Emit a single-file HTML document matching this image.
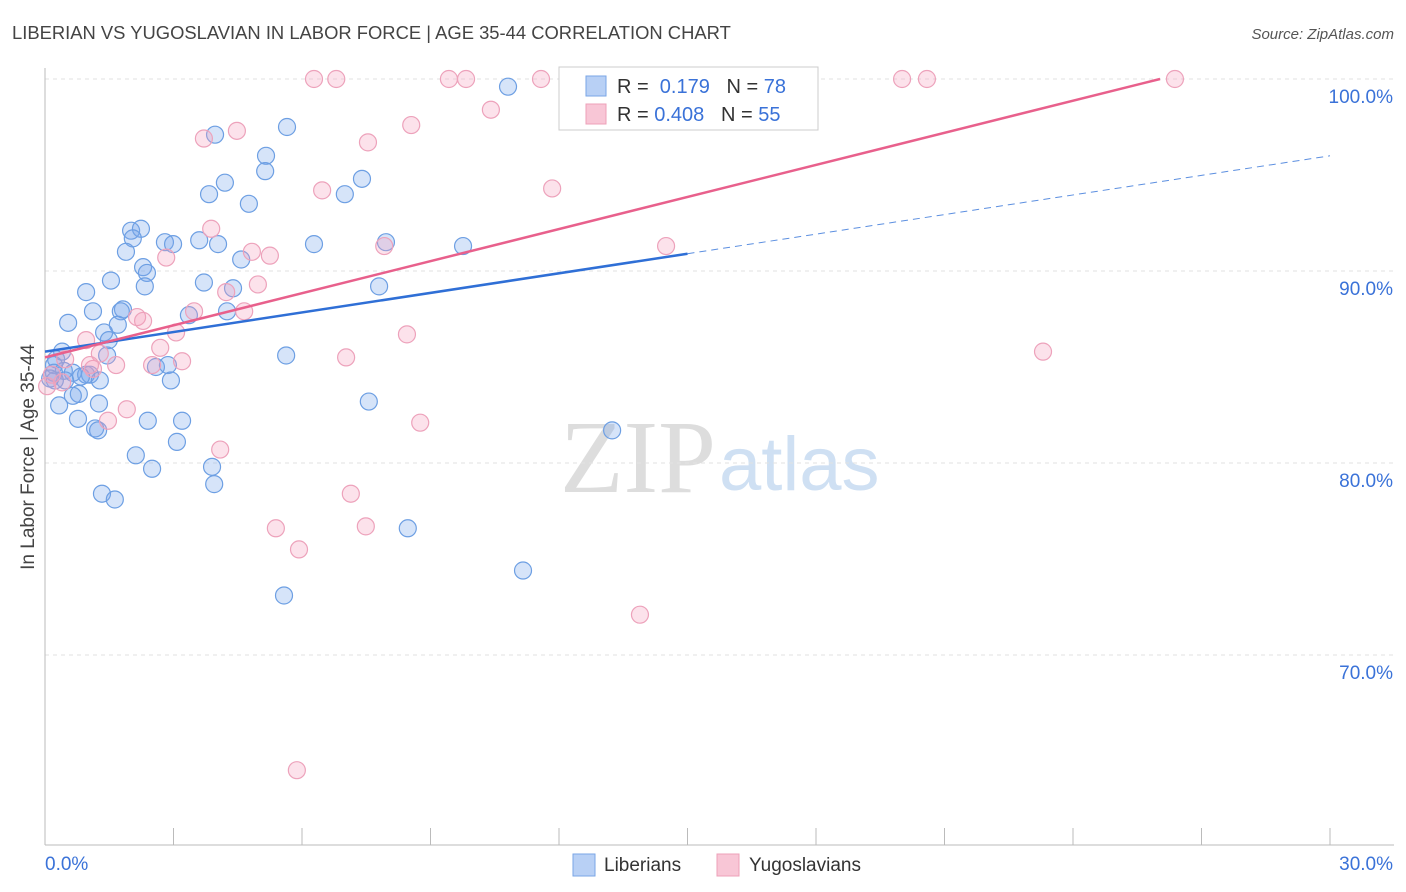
<!DOCTYPE html>
<html><head><meta charset="utf-8"><style>
body{margin:0;background:#fff;font-family:"Liberation Sans",sans-serif}
svg{display:block}
</style></head><body>
<svg width="1406" height="892">
<text x="12" y="39" font-size="18.4" fill="#444">LIBERIAN VS YUGOSLAVIAN IN LABOR FORCE | AGE 35-44 CORRELATION CHART</text>
<text x="1394" y="39" font-size="15" fill="#555" font-style="italic" text-anchor="end">Source: ZipAtlas.com</text>
<text x="716" y="492" font-size="104" fill="#ddd" text-anchor="end" font-family="Liberation Serif,serif">ZIP</text>
<text x="719" y="490" font-size="76" fill="#cfe0f3">atlas</text>
<text transform="translate(34,457) rotate(-90)" font-size="19" fill="#444" text-anchor="middle">In Labor Force | Age 35-44</text>
<g id="grid"></g><g id="pts"></g><g id="lines"></g>
<g>
<rect x="559" y="67" width="259" height="63" fill="#fff" stroke="#ccc"/>
<rect x="586" y="76" width="20" height="20" fill="#b8d0f5" stroke="#7aa6e6"/>
<text x="617" y="93" font-size="20" fill="#333">R = <tspan fill="#3a72d8">&#160;0.179</tspan>&#160;&#160;&#160;N = <tspan fill="#3a72d8">78</tspan></text>
<rect x="586" y="104" width="20" height="20" fill="#f8c6d6" stroke="#eea0b8"/>
<text x="617" y="121" font-size="20" fill="#333">R = <tspan fill="#3a72d8">0.408</tspan>&#160;&#160;&#160;N = <tspan fill="#3a72d8">55</tspan></text>
</g>
<g>
<rect x="573" y="854" width="22" height="22" fill="#b8d0f5" stroke="#7aa6e6"/>
<text x="604" y="871" font-size="19" fill="#333">Liberians</text>
<rect x="717" y="854" width="22" height="22" fill="#f8c6d6" stroke="#eea0b8"/>
<text x="749" y="871" font-size="19" fill="#333">Yugoslavians</text>
</g>
</svg>
<script>
const yTicks=[70,80,90,100];
const xTickLabels=["0.0%","30.0%"];
const blueX=[10.81,3.97,5.65,5.16,5.14,4.20,3.83,4.76,7.40,7.00,2.01,2.24,2.05,2.80,2.99,3.60,4.04,4.58,6.28,7.96,9.76,1.89,2.29,2.38,1.54,2.33,0.96,3.71,4.39,7.80,1.82,1.77,1.12,3.36,4.25,0.54,1.70,1.38,1.49,0.40,1.45,0.26,0.21,0.21,0.44,0.65,0.96,1.05,0.47,0.23,0.79,0.65,2.59,2.87,2.94,5.63,0.33,1.26,0.77,2.40,3.20,1.17,1.24,3.08,2.12,2.50,3.90,3.95,1.33,1.63,7.56,13.24,8.47,11.16,5.58,0.84,1.28,0.12];
const blueY=[99.6,97.1,97.5,96.0,95.2,94.6,94.0,93.5,94.8,94.0,92.1,92.2,91.7,91.5,91.4,91.6,91.4,90.6,91.4,91.5,91.3,91.0,90.2,89.9,89.5,89.2,88.9,89.4,89.1,89.2,88.0,87.9,87.9,87.7,87.9,87.3,87.2,86.8,86.4,85.8,85.6,85.4,85.1,84.7,84.8,84.7,84.6,84.6,84.3,84.3,83.6,83.5,85.0,85.1,84.3,85.6,83.0,83.1,82.3,82.2,82.2,81.8,81.7,81.1,80.4,79.7,79.8,78.9,78.4,78.1,83.2,81.7,76.6,74.4,73.1,84.5,84.3,84.4];
const pinkX=[6.28,6.80,9.43,9.83,11.58,12.61,15.39,20.01,20.59,26.38,10.41,8.55,4.48,3.71,7.54,6.47,11.84,3.88,4.83,2.83,5.25,7.92,14.50,4.97,4.23,3.48,4.65,2.15,2.29,3.06,8.45,0.96,2.69,1.28,3.20,2.50,1.66,1.12,7.03,0.47,0.16,0.40,0.05,1.91,1.47,8.76,4.09,7.14,5.39,7.49,5.93,13.89,23.30,5.88,1.05];
const pinkY=[100,100,100,100,100,100,100,100,100,100,98.4,97.6,97.3,96.9,96.7,94.2,94.3,92.2,91.0,90.7,90.8,91.3,91.3,89.3,88.9,87.9,87.9,87.6,87.4,86.8,86.7,86.4,86.0,85.7,85.3,85.1,85.1,84.9,85.5,85.4,84.6,84.2,84.0,82.8,82.2,82.1,80.7,78.4,76.6,76.7,75.5,72.1,85.8,64.0,85.1];
const blueTrend=[85.8,0.34];
const pinkTrend=[85.5,0.557];
const NS="http://www.w3.org/2000/svg";
const sx=v=>45+v/30*1285, sy=v=>79+(100-v)*19.2;
function mk(t,a,p){const e=document.createElementNS(NS,t);for(const k in a)e.setAttribute(k,a[k]);p.appendChild(e);return e;}
const g=document.getElementById('grid');
yTicks.forEach(t=>{
 const l=mk('line',{x1:45,x2:1394,y1:sy(t),y2:sy(t),stroke:'#e2e2e2','stroke-dasharray':'4,4'},g);
 
 
 const tx=mk('text',{x:1393,y:sy(t)+24,'font-size':19,fill:'#3a72d8','text-anchor':'end'},g);
 tx.textContent=t.toFixed(1)+'%';
 
 
});
const ax=mk('line',{x1:45,x2:1394,y1:845,y2:845,stroke:'#bbb'},g);


const ay=mk('line',{x1:45,x2:45,y1:68,y2:845,stroke:'#bbb'},g);


for(let i=0;i<=10;i++){const t=mk('line',{x1:sx(i*3),x2:sx(i*3),y1:828,y2:845,stroke:'#bbb'},g);
 
 }
xTickLabels.forEach((s,i)=>{const t=mk('text',{x:i?1393:45,y:870,'font-size':19,fill:'#3a72d8','text-anchor':i?'end':'start'},g);t.textContent=s;
 
 });
const p=document.getElementById('pts');
blueX.forEach((x,i)=>{const c=mk('circle',{cx:sx(x),cy:sy(blueY[i]),r:8.5,fill:'rgba(120,165,235,0.3)',stroke:'#6d9fe3','stroke-width':1.2},p);
 
 });
pinkX.forEach((x,i)=>{const c=mk('circle',{cx:sx(x),cy:sy(pinkY[i]),r:8.5,fill:'rgba(245,160,190,0.3)',stroke:'#eda2bb','stroke-width':1.2},p);
 
 });
const L=document.getElementById('lines');
const b1=mk('line',{x1:sx(0),y1:sy(blueTrend[0]),x2:sx(15),y2:sy(blueTrend[0]+15*blueTrend[1]),stroke:'#2f6fd6','stroke-width':2.5},L);


const b2=mk('line',{x1:sx(15),y1:sy(blueTrend[0]+15*blueTrend[1]),x2:sx(30),y2:sy(blueTrend[0]+30*blueTrend[1]),stroke:'#5c8fe0','stroke-width':1,'stroke-dasharray':'7,5'},L);


const xe=(100-pinkTrend[0])/pinkTrend[1];
const pl=mk('line',{x1:sx(0),y1:sy(pinkTrend[0]),x2:sx(xe),y2:sy(100),stroke:'#e8608c','stroke-width':2.5},L);


</script>
</body></html>
